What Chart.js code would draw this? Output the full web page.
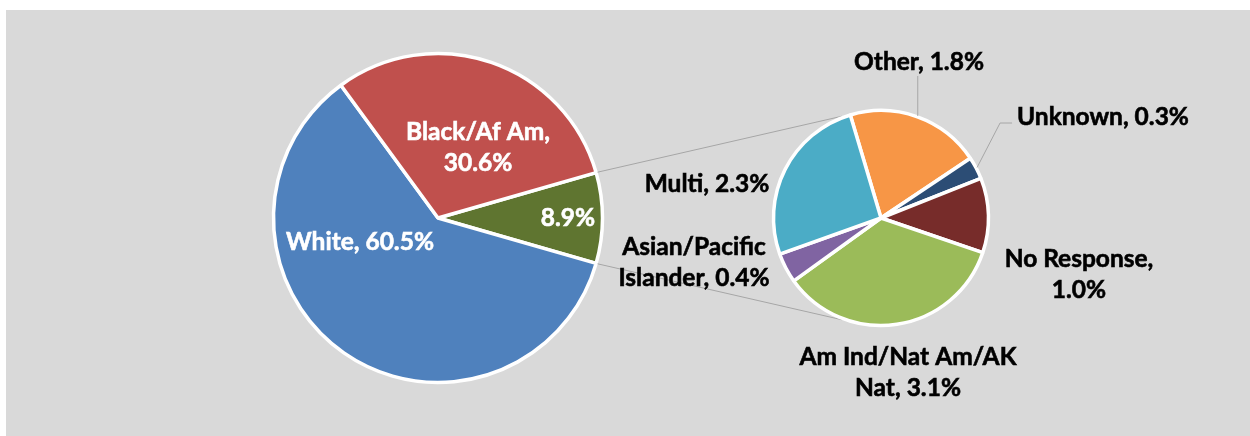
<!DOCTYPE html>
<html>
<head>
<meta charset="utf-8">
<script src="https://cdn.jsdelivr.net/npm/chart.js"></script>
<style>
  html, body { margin: 0; padding: 0; background: #fff; }
  #wrap { position: relative; width: 1250px; height: 436px; overflow: hidden; }
  #panel { position: absolute; left: 6px; top: 10px; width: 1244px; height: 426px; background: #d9d9d9; }
  canvas { position: absolute; left: 0; top: 0; }
</style>
</head>
<body>
<div id="wrap">
  <div id="panel"></div>
  <canvas id="mainPie" width="1250" height="436"></canvas>
  <canvas id="subPie" width="1250" height="436"></canvas>
</div>
<script>
// main pie, the small groups are pulled together into one slice
const mainLabels = ['Other', 'White', 'Black/Af Am'];
const mainValues = [8.9, 60.5, 30.6];
const mainColors = ['#5f7530', '#4f81bd', '#c0504d'];

// secondary pie, breakdown of the 8.9% slice
const subLabels = ['Other', 'Unknown', 'No Response', 'Am Ind/Nat Am/AK Nat', 'Asian/Pacific Islander', 'Multi'];
const subValues = [1.8, 0.3, 1.0, 3.1, 0.4, 2.3];
const subColors = ['#f79646', '#2c4d75', '#772c2a', '#9bbb59', '#8064a2', '#4bacc6'];

const style = {
  border: '#ffffff',
  line: '#a6a6a6',
  font: "Lato, 'Open Sans', sans-serif",
  size: 24.5,
  lineHeight: 31
};

const W = 1250, H = 436;

// where each pie sits
const mainGeo = { cx: 438, cy: 218, r: 166 };
const subGeo = { cx: 881, cy: 218, r: 109 };

// label placement, offset from the pie centre, plus wrap width
const mainLabelPos = [[130, 0, 200], [-78, 24, 230], [40, -70, 180]];
const subLabelPos = [[38, -156, 230], [222, -101, 270], [198, 57, 185], [27, 155, 245], [-187, 45, 190], [-174, -34, 210]];

const padFor = (g) => ({
  left: g.cx - g.r, right: W - g.cx - g.r,
  top: g.cy - g.r, bottom: H - g.cy - g.r
});

const wrapText = (ctx, text, maxWidth) => {
  let words = text.split(' ');
  let lines = [];
  let cur = '';
  for (let w of words) {
    let test = cur ? cur + ' ' + w : w;
    if (cur && ctx.measureText(test).width > maxWidth) {
      lines.push(cur);
      cur = w;
    } else {
      cur = test;
    }
  }
  if (cur) lines.push(cur);
  return lines;
};

// a thin stroke of the same colour makes Lato bold look closer to the heavier original
const drawBlock = (ctx, lines, x, y) => {
  let top = y - (lines.length - 1) * style.lineHeight / 2;
  ctx.lineWidth = 0.6;
  ctx.strokeStyle = ctx.fillStyle;
  lines.forEach((l, i) => {
    ctx.fillText(l, x, top + i * style.lineHeight);
    ctx.strokeText(l, x, top + i * style.lineHeight);
  });
};

const fmt = (v) => v.toFixed(1) + '%';

// white labels on the main pie
const mainLabelPlugin = {
  id: 'mainLabels',
  afterDatasetsDraw(chart) {
    const ctx = chart.ctx;
    const arc = chart.getDatasetMeta(0).data[0];
    ctx.save();
    ctx.font = 'bold ' + style.size + 'px ' + style.font;
    ctx.fillStyle = '#ffffff';
    ctx.textAlign = 'center';
    ctx.textBaseline = 'middle';
    mainValues.forEach((v, i) => {
      let text = i === 0 ? fmt(v) : mainLabels[i] + ', ' + fmt(v);
      let p = mainLabelPos[i];
      drawBlock(ctx, wrapText(ctx, text, p[2]), arc.x + p[0], arc.y + p[1]);
    });
    ctx.restore();
  }
};

const mainChart = new Chart(document.getElementById('mainPie'), {
  type: 'pie',
  data: {
    labels: mainLabels,
    datasets: [{
      data: mainValues,
      backgroundColor: mainColors,
      borderColor: style.border,
      borderWidth: 3.5
    }]
  },
  options: {
    responsive: false,
    animation: false,
    // put the middle of the "Other" slice at 3 o'clock
    rotation: 90 - mainValues[0] / mainValues.reduce((a, b) => a + b, 0) * 180,
    radius: mainGeo.r - 1.5,
    layout: { padding: padFor(mainGeo) },
    plugins: { legend: { display: false }, tooltip: { enabled: false } }
  },
  plugins: [mainLabelPlugin]
});

// connector lines between the pies and the black labels of the small pie
const subPlugin = {
  id: 'subDecor',
  beforeDatasetsDraw(chart) {
    const ctx = chart.ctx;
    const m = mainChart.getDatasetMeta(0).data[0];
    const s = chart.getDatasetMeta(0).data[0];
    const mr = m.outerRadius + 1.5;
    const sr = s.outerRadius + 1.5;
    const off = 111 * Math.PI / 180;
    ctx.save();
    ctx.strokeStyle = style.line;
    ctx.lineWidth = 1;
    ctx.beginPath();
    ctx.moveTo(m.x + mr * Math.cos(m.startAngle), m.y + mr * Math.sin(m.startAngle));
    ctx.lineTo(s.x + sr * Math.cos(-off), s.y + sr * Math.sin(-off));
    ctx.moveTo(m.x + mr * Math.cos(m.endAngle), m.y + mr * Math.sin(m.endAngle));
    ctx.lineTo(s.x + sr * Math.cos(off), s.y + sr * Math.sin(off));
    ctx.stroke();
    ctx.restore();
  },
  afterDatasetsDraw(chart) {
    const ctx = chart.ctx;
    const arcs = chart.getDatasetMeta(0).data;
    const cx = arcs[0].x, cy = arcs[0].y;
    ctx.save();
    ctx.font = 'bold ' + style.size + 'px ' + style.font;
    ctx.textAlign = 'center';
    ctx.textBaseline = 'middle';

    // leader lines for the two thin slices at the top
    ctx.strokeStyle = style.line;
    ctx.lineWidth = 1;
    const edge = (a) => {
      let mid = (a.startAngle + a.endAngle) / 2;
      return [a.x + (a.outerRadius + 1) * Math.cos(mid), a.y + (a.outerRadius + 1) * Math.sin(mid)];
    };
    let e0 = edge(arcs[0]);
    ctx.beginPath();
    ctx.moveTo(e0[0], e0[1]);
    ctx.lineTo(e0[0], cy + subLabelPos[0][1] + 14);
    ctx.stroke();

    let lines1 = wrapText(ctx, subLabels[1] + ', ' + fmt(subValues[1]), subLabelPos[1][2]);
    let left1 = cx + subLabelPos[1][0] - ctx.measureText(lines1[0]).width / 2;
    let y1 = cy + subLabelPos[1][1] + 6;
    let e1 = edge(arcs[1]);
    ctx.beginPath();
    ctx.moveTo(e1[0], e1[1]);
    ctx.lineTo(left1 - 17, y1);
    ctx.lineTo(left1 - 5, y1);
    ctx.stroke();

    ctx.fillStyle = '#000000';
    subValues.forEach((v, i) => {
      let p = subLabelPos[i];
      let lines = wrapText(ctx, subLabels[i] + ', ' + fmt(v), p[2]);
      drawBlock(ctx, lines, cx + p[0], cy + p[1]);
    });
    ctx.restore();
  }
};

const subChart = new Chart(document.getElementById('subPie'), {
  type: 'pie',
  data: {
    labels: subLabels,
    datasets: [{
      data: subValues,
      backgroundColor: subColors,
      borderColor: style.border,
      borderWidth: 3.5
    }]
  },
  options: {
    responsive: false,
    animation: false,
    rotation: -16.6,
    radius: subGeo.r - 1.5,
    layout: { padding: padFor(subGeo) },
    plugins: { legend: { display: false }, tooltip: { enabled: false } }
  },
  plugins: [subPlugin]
});
</script>
</body>
</html>
